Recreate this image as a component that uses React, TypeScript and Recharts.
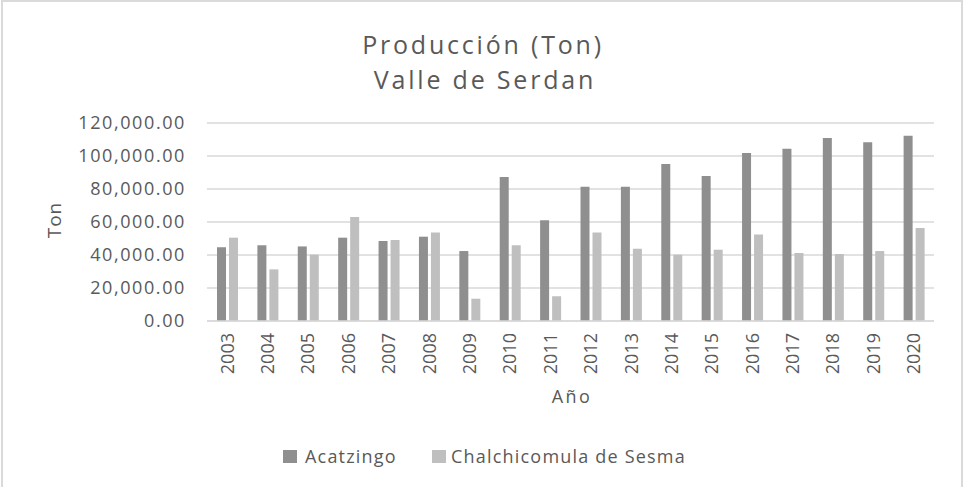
import React from 'react';
import { BarChart, Bar, XAxis, YAxis, CartesianGrid } from 'recharts';

const years = ['2003','2004','2005','2006','2007','2008','2009','2010','2011','2012','2013','2014','2015','2016','2017','2018','2019','2020'];
const acatzingo = [44700, 45900, 45200, 50500, 48500, 51100, 42400, 87300, 61000, 81400, 81400, 95100, 87900, 101800, 104400, 110900, 108300, 112300];
const chalchicomula = [50500, 31300, 40200, 63000, 49100, 53700, 13500, 45900, 15000, 53700, 43800, 40200, 43200, 52500, 41200, 40600, 42400, 56400];
const yTicks = [0, 20000, 40000, 60000, 80000, 100000, 120000];
const seriesNames = ['Acatzingo', 'Chalchicomula de Sesma'];
const titleLines = ['Producción (Ton)', 'Valle de Serdan'];

const data = years.map((y, i) => ({ year: y, a: acatzingo[i], c: chalchicomula[i] }));

const TXT = '#595959';
const FONT = '"Open Sans", sans-serif';

const fmt = (v: number) =>
  v.toLocaleString('en-US', { minimumFractionDigits: 2, maximumFractionDigits: 2 });

const YTick = (props: any) => {
  const { x, y, payload } = props;
  return (
    <text x={x} y={y} dy="0.36em" textAnchor="end" fill={TXT} fontSize={18} fontFamily={FONT} style={{ letterSpacing: 1.6 }}>
      {fmt(payload.value)}
    </text>
  );
};

const XTick = (props: any) => {
  const { x, y, payload } = props;
  return (
    <text x={x} y={y} dy="0.36em" textAnchor="end" fill={TXT} fontSize={18} fontFamily={FONT} transform={`rotate(-90, ${x}, ${y})`}>
      {payload.value}
    </text>
  );
};

export default function App() {
  return (
    <div style={{ position: 'relative', width: 964, height: 487, overflow: 'hidden', background: '#fff', fontFamily: FONT }}>
      <style>{'html,body{margin:0;overflow:hidden;}'}</style>
      <div style={{ position: 'absolute', left: 1, top: 0, width: 962, height: 520, border: '2px solid #dadada', boxSizing: 'border-box' }} />
      <div style={{ position: 'absolute', left: 0, top: 0 }}>
        <BarChart width={964} height={487} data={data} margin={{ top: 123, right: 30, bottom: 86, left: 87 }} barSize={9} barGap={3}>
          <CartesianGrid vertical={false} stroke="#d9d9d9" strokeWidth={1.3} />
          <XAxis dataKey="year" axisLine={{ stroke: '#d9d9d9', strokeWidth: 1.3 }} tickLine={false} tick={<XTick />} tickSize={0} tickMargin={12} interval={0} height={80} />
          <YAxis domain={[0, 120000]} ticks={yTicks} axisLine={false} tickLine={false} tick={<YTick />} tickSize={0} tickMargin={21} width={120} interval={0} />
          <Bar dataKey="a" name={seriesNames[0]} fill="#8f8f8f" isAnimationActive={false} />
          <Bar dataKey="c" name={seriesNames[1]} fill="#bfbfbf" isAnimationActive={false} />
        </BarChart>
      </div>
      <svg width={964} height={487} style={{ position: 'absolute', left: 0, top: 0, pointerEvents: 'none' }}>
        <text x={483} y={54} textAnchor="middle" fill={TXT} fontSize={25} fontFamily={FONT} style={{ letterSpacing: 2.8 }}>{titleLines[0]}</text>
        <text x={485} y={89} textAnchor="middle" fill={TXT} fontSize={25} fontFamily={FONT} style={{ letterSpacing: 2.8 }}>{titleLines[1]}</text>
        <text x={61} y={220} textAnchor="middle" fill={TXT} fontSize={19} fontFamily={FONT} transform="rotate(-90, 61, 220)" style={{ letterSpacing: 1 }}>Ton</text>
        <text x={572} y={403} textAnchor="middle" fill={TXT} fontSize={18} fontFamily={FONT} style={{ letterSpacing: 2.5 }}>Año</text>
        <rect x={283} y={450} width={14} height={13} fill="#8f8f8f" />
        <text x={305} y={463} fill={TXT} fontSize={18} fontFamily={FONT} style={{ letterSpacing: 1.2 }}>{seriesNames[0]}</text>
        <rect x={432} y={450} width={14} height={13} fill="#bfbfbf" />
        <text x={451} y={463} fill={TXT} fontSize={18} fontFamily={FONT} style={{ letterSpacing: 1.2 }}>{seriesNames[1]}</text>
      </svg>
    </div>
  );
}
